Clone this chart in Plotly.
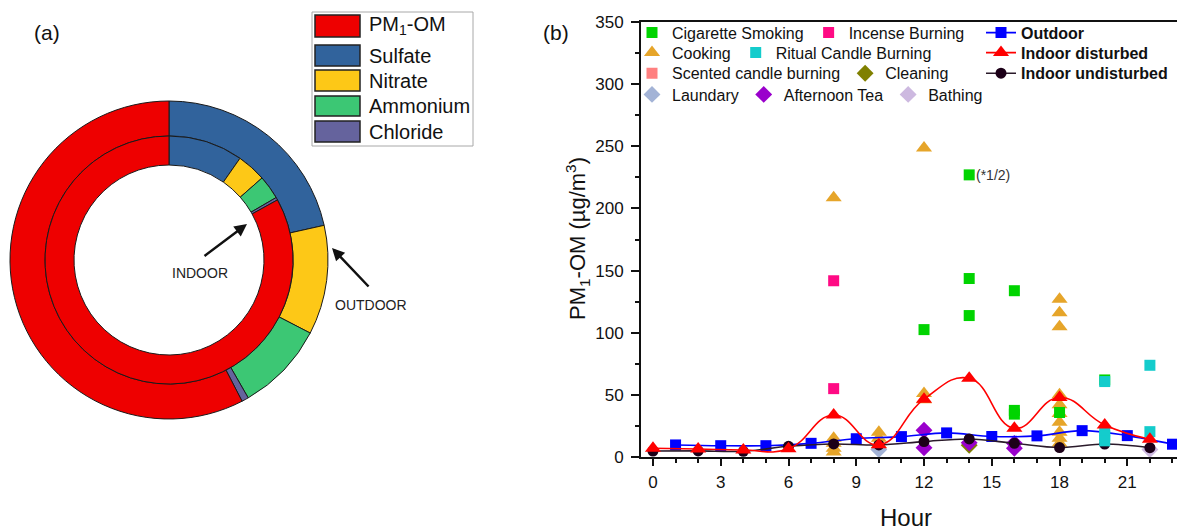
import plotly.graph_objects as go

W, H = 1177, 530

# ---------------- (a) donut data ----------------
components = ["PM1-OM", "Sulfate", "Nitrate", "Ammonium", "Chloride"]
component_legend = ["PM<sub>1</sub>-OM", "Sulfate", "Nitrate", "Ammonium", "Chloride"]
component_colors = ["#ee0000", "#31639c", "#fdc817", "#3cc774", "#65639d"]
outdoor_share = [57.6, 21.5, 11.1, 9.1, 0.7]
indoor_share = [83.05, 9.7, 3.8, 3.1, 0.35]

# ---------------- (b) scatter data ----------------
hours_outdoor = [1, 3, 5, 7, 9, 11, 13, 15, 17, 19, 21, 23]
outdoor = [9.7, 9.1, 9.1, 11.0, 14.7, 16.4, 19.4, 16.5, 17.0, 21.2, 17.2, 10.3]

hours_indoor = [0, 2, 4, 6, 8, 10, 12, 14, 16, 18, 20, 22]
indoor_disturbed = [7.0, 6.4, 5.6, 6.6, 33.8, 9.8, 46.5, 63.3, 23.2, 47.9, 25.8, 14.3]
indoor_undisturbed = [4.8, 4.9, 4.6, 8.6, 10.5, 9.7, 12.4, 14.5, 11.0, 7.6, 10.4, 7.5]

cig_x = [12, 14, 14, 14, 16, 16, 16, 18, 20]
cig_y = [102.5, 227, 143.6, 113.8, 133.8, 37.5, 34.5, 35.8, 62]

incense_x = [8, 8]
incense_y = [141.8, 55]

cooking_x = [8, 8, 8, 8, 8, 10, 10, 10, 12, 12, 12,
             18, 18, 18, 18, 18, 18, 18, 18, 18, 18]
cooking_y = [208.5, 15, 11, 7, 4, 20, 15, 10, 248.7, 51, 46,
             127, 116, 104.8, 50, 42, 35, 28, 20, 15, 11]

ritual_x = [20, 20, 20, 20, 22, 22]
ritual_y = [60.7, 21, 17, 13, 73.8, 20.4]

scented_x = [None]
scented_y = [None]

cleaning_x = [14]
cleaning_y = [9.5]

laundary_x = [10]
laundary_y = [6]

tea_x = [12, 12, 14, 16, 16]
tea_y = [21.5, 7.5, 11.5, 11, 7]

bathing_x = [22]
bathing_y = [6]

x_ticks = [0, 3, 6, 9, 12, 15, 18, 21]
y_ticks = [0, 50, 100, 150, 200, 250, 300, 350]

FONT = "Liberation Sans, Arial, sans-serif"


def px(x):
    return x / W


def py(y):
    return 1 - y / H


fig = go.Figure()

# ---------- donut (outer = OUTDOOR, inner = INDOOR) ----------
order = [1, 2, 3, 4, 0]  # clockwise from 12 o'clock: sulfate ... OM
for share, cx, cy, r, hole in [
    (outdoor_share, 169, 260, 159, 124 / 159),
    (indoor_share, 169, 260, 124, 95 / 124),
]:
    fig.add_trace(go.Pie(
        labels=[components[i] for i in order],
        values=[share[i] for i in order],
        marker=dict(colors=[component_colors[i] for i in order],
                    line=dict(color="#1a1a1a", width=1)),
        hole=hole, sort=False, direction="clockwise", rotation=0,
        textinfo="none", hoverinfo="label+value", showlegend=False,
        automargin=False,
        domain=dict(x=[px(cx - r), px(cx + r)], y=[py(cy + r), py(cy - r)]),
    ))

# ---------- scatter ----------
def pts(name, x, y, color, symbol, size, legend):
    fig.add_trace(go.Scatter(
        x=x, y=y, mode="markers", name=name, legend=legend,
        marker=dict(color=color, symbol=symbol, size=size, line=dict(width=0)),
        xaxis="x", yaxis="y"))


pts("Cooking", cooking_x, cooking_y, "#e6a52a", "triangle-up", 14, "legend2")
pts("Cigarette Smoking", cig_x, cig_y, "#00d400", "square", 11, "legend")
pts("Incense Burning", incense_x, incense_y, "#ff0a84", "square", 11, "legend")
pts("Scented candle burning", scented_x, scented_y, "#ff8080", "square", 11, "legend3")
pts("Cleaning", cleaning_x, cleaning_y, "#808000", "diamond", 13, "legend3")
pts("Laundary", laundary_x, laundary_y, "#a3b3d6", "diamond", 13, "legend4")
pts("Afternoon Tea", tea_x, tea_y, "#9a00cc", "diamond", 13, "legend4")
pts("Bathing", bathing_x, bathing_y, "#cdb9e0", "diamond", 13, "legend4")

fig.add_trace(go.Scatter(
    x=hours_outdoor, y=outdoor, mode="lines+markers", name="<b>Outdoor</b>",
    legend="legend5", line=dict(color="#0000ff", width=1.6, shape="spline", smoothing=1),
    marker=dict(color="#0000ff", symbol="square", size=11)))
fig.add_trace(go.Scatter(
    x=hours_indoor, y=indoor_undisturbed, mode="lines+markers",
    name="<b>Indoor undisturbed</b>", legend="legend7",
    line=dict(color="#2a1a2a", width=1.6, shape="spline", smoothing=1),
    marker=dict(color="#1c0018", symbol="circle", size=11)))
pts("Ritual Candle Burning", ritual_x, ritual_y, "#14cccc", "square", 11, "legend2")
fig.add_trace(go.Scatter(
    x=hours_indoor, y=indoor_disturbed, mode="lines+markers",
    name="<b>Indoor disturbed</b>", legend="legend6",
    line=dict(color="#ff0000", width=1.6, shape="spline", smoothing=1.3),
    marker=dict(color="#ff0000", symbol="triangle-up", size=14)))

# ---------- legends for (b) ----------
rows = [32.7, 52.7, 73.3, 94.5]
col1, col3 = 632, 981
leg_common = dict(orientation="h", xanchor="left", yanchor="middle",
                  bgcolor="rgba(0,0,0,0)", borderwidth=0,
                  font=dict(family=FONT, size=16, color="#111"))
legends = {
    "legend": (col1, rows[0]),
    "legend2": (col1, rows[1]),
    "legend3": (col1, rows[2]),
    "legend4": (col1, rows[3]),
    "legend5": (col3, rows[0]),
    "legend6": (col3, rows[1]),
    "legend7": (col3, rows[2]),
}
layout_legends = {k: dict(leg_common, x=px(x), y=py(y)) for k, (x, y) in legends.items()}

# ---------- custom legend for (a) ----------
shapes = [dict(type="rect", xref="paper", yref="paper",
               x0=px(312), x1=px(473), y0=py(146), y1=py(12),
               line=dict(color="#a8a8a8", width=1), fillcolor="rgba(0,0,0,0)")]
annotations = []
swatch_rows = [(15, 37), (45, 66), (70, 91), (96, 116), (121, 142)]
for (t, b), lab, col in zip(swatch_rows, component_legend, component_colors):
    shapes.append(dict(type="rect", xref="paper", yref="paper",
                       x0=px(315), x1=px(360), y0=py(b), y1=py(t),
                       line=dict(color="#222", width=1.5), fillcolor=col))
    annotations.append(dict(x=px(367), y=py((t + b) / 2), xref="paper", yref="paper",
                            text=lab, showarrow=False, xanchor="left", yanchor="middle",
                            font=dict(family=FONT, size=20, color="#111")))


def label(x, y, text, size, color="#111", **kw):
    d = dict(x=px(x), y=py(y), text=text, showarrow=False, xref="paper", yref="paper",
             xanchor="center", yanchor="middle", font=dict(family=FONT, size=size, color=color))
    d.update(kw)
    return d


annotations += [
    label(47, 33, "(a)", 21),
    label(556, 33, "(b)", 21),
    label(200, 273, "INDOOR", 14, "#222"),
    label(371, 305, "OUTDOOR", 14, "#222"),
    dict(x=px(247), y=py(224), ax=-44, ay=33, text="", showarrow=True, xref="paper",
         yref="paper", arrowhead=2, arrowsize=1, arrowwidth=2.5, arrowcolor="#111"),
    dict(x=px(332), y=py(248), ax=38, ay=40, text="", showarrow=True, xref="paper",
         yref="paper", arrowhead=2, arrowsize=1, arrowwidth=2.5, arrowcolor="#111"),
    label(906, 517, "Hour", 24),
    label(577, 239, "PM<sub>1</sub>-OM (µg/m<sup>3</sup>)", 22, textangle=-90),
    dict(x=14, y=227, xref="x", yref="y", text="(*1/2)", showarrow=False,
         xanchor="left", yanchor="middle", xshift=5,
         font=dict(family=FONT, size=14, color="#333")),
]

fig.update_layout(
    width=W, height=H, autosize=False,
    margin=dict(l=0, r=0, t=0, b=0, pad=0, autoexpand=False),
    paper_bgcolor="white", plot_bgcolor="white",
    font=dict(family=FONT, color="#111"),
    xaxis=dict(domain=[px(641), 1.0], range=[-0.53, 23.2], automargin=False,
               tickmode="array", tickvals=x_ticks,
               ticks="outside", ticklen=7, tickwidth=1.5, tickcolor="#111",
               minor=dict(dtick=1, tick0=0, ticks="outside", ticklen=4,
                          tickwidth=1.5, tickcolor="#111"),
               showline=True, linecolor="#111", linewidth=2, mirror=True,
               showgrid=False, zeroline=False, ticklabelstandoff=2,
               tickfont=dict(family=FONT, size=17, color="#111")),
    yaxis=dict(domain=[py(457), py(22)], range=[0, 350], automargin=False,
               tickmode="array", tickvals=y_ticks,
               ticks="outside", ticklen=8, tickwidth=1.5, tickcolor="#111",
               minor=dict(dtick=25, tick0=0, ticks="outside", ticklen=4,
                          tickwidth=1.5, tickcolor="#111"),
               showline=True, linecolor="#111", linewidth=2,
               showgrid=False, zeroline=False, ticklabelstandoff=4,
               tickfont=dict(family=FONT, size=17, color="#111")),
    shapes=shapes, annotations=annotations,
    **layout_legends,
)

fig.write_html("out.html")
